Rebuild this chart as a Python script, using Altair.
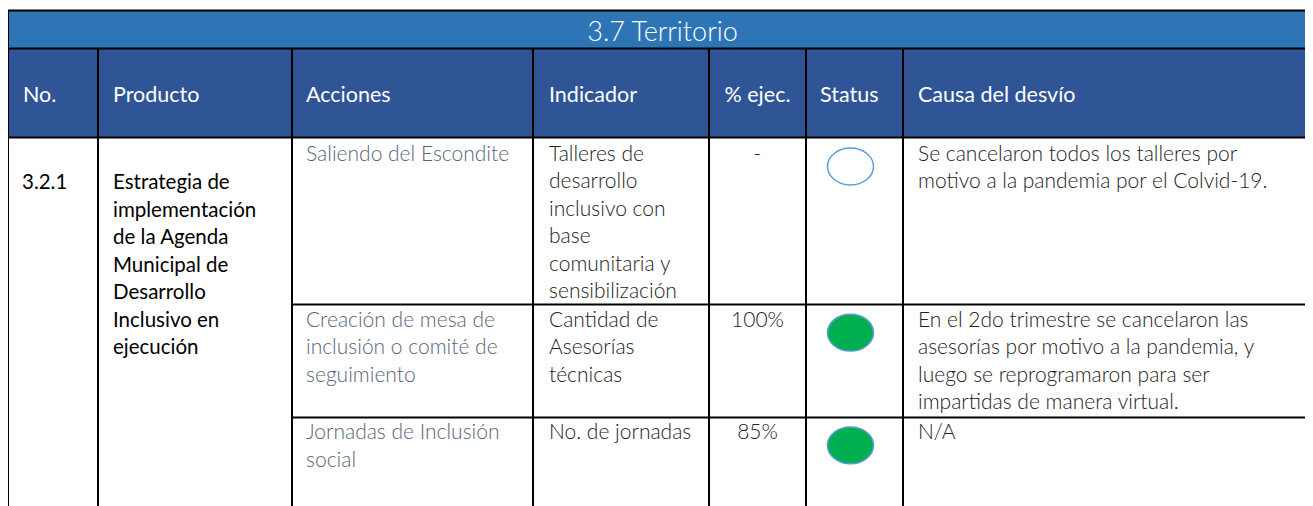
import altair as alt
import pandas as pd

# ---------------- data ----------------
titulo = "3.7 Territorio"
encabezados = ["No.", "Producto", "Acciones", "Indicador", "% ejec.", "Status", "Causa del desvío"]
numero = "3.2.1"
producto = ["Estrategia de", "implementación", "de la Agenda", "Municipal de",
            "Desarrollo", "Inclusivo en", "ejecución"]
acciones = [
    ["Saliendo del Escondite"],
    ["Creación de mesa de", "inclusión o comité de", "seguimiento"],
    ["Jornadas de Inclusión", "social"],
]
indicadores = [
    ["Talleres de", "desarrollo", "inclusivo con", "base", "comunitaria y", "sensibilización"],
    ["Cantidad de", "Asesorías", "técnicas"],
    ["No. de jornadas"],
]
ejecucion = ["-", "100%", "85%"]
status = ["Sin ejecutar", "Ejecutado", "Ejecutado"]
causas = [
    ["Se cancelaron todos los talleres por", "motivo a la pandemia por el Colvid-19."],
    ["En el 2do trimestre se cancelaron las", "asesorías por motivo a la pandemia, y",
     "luego se reprogramaron para ser", "impartidas de manera virtual."],
    ["N/A"],
]

# ---------------- layout ----------------
X0, X1 = 8, 1305
Y0, Y1 = 8, 506
TOP = 10.5
TITLE_BOTTOM = 48.5
HEAD_BOTTOM = 137.5
COL_EDGES = [8, 98, 292, 533, 709, 806, 903]
ROW_EDGES = [304.5, 417.5]
TEXT_X = [22, 113, 306, 549, 757.5, 850.5, 918]
HEAD_X = [23, 113, 306, 549, 757.5, 820, 918]
HEAD_BASE = 101.5
TITLE_BASE = 40.5
TITLE_X = 662.5
ROW_BASE = [160.5, 326.7, 439.3]
LEAD_BASE = 189
LINE_H = 27.5
BODY_SIZE = 21
LEAD_SIZE = 20.5
HEAD_SIZE = 21.5
TITLE_SIZE = 27
FONT = "Lato"
C_TITLE = "#2E75B6"
C_HEAD = "#2F5597"
C_GRAY = "#56667A"
C_DARK = "#222222"
C_BLACK = "#000000"

xs = alt.Scale(domain=[X0, X1], nice=False, zero=False)
ys = alt.Scale(domain=[Y0, Y1], nice=False, zero=False, reverse=True)

# backgrounds
bg = pd.DataFrame({
    "x": [X0, X0], "x2": [X1, X1],
    "y": [TOP, TITLE_BOTTOM], "y2": [TITLE_BOTTOM, HEAD_BOTTOM],
    "c": [C_TITLE, C_HEAD],
})
rects = alt.Chart(bg).mark_rect().encode(
    x=alt.X("x:Q", scale=xs, axis=None), x2="x2:Q",
    y=alt.Y("y:Q", scale=ys, axis=None), y2="y2:Q",
    color=alt.Color("c:N", scale=None),
)

# grid lines
lines = []
lines.append(dict(x=X0, x2=X1, y=TOP, y2=TOP))
lines.append(dict(x=X0, x2=X1, y=TITLE_BOTTOM, y2=TITLE_BOTTOM))
lines.append(dict(x=X0, x2=X1, y=HEAD_BOTTOM, y2=HEAD_BOTTOM))
lines.append(dict(x=X0, x2=X0, y=TOP, y2=Y1))
for cx in COL_EDGES[1:]:
    lines.append(dict(x=cx, x2=cx, y=TITLE_BOTTOM, y2=Y1))
for ry in ROW_EDGES:
    lines.append(dict(x=COL_EDGES[2], x2=X1, y=ry, y2=ry))
rules = alt.Chart(pd.DataFrame(lines)).mark_rule(color="black", strokeWidth=2).encode(
    x=alt.X("x:Q", scale=xs, axis=None), x2="x2:Q",
    y=alt.Y("y:Q", scale=ys, axis=None), y2="y2:Q",
)

# status ellipses
st = pd.DataFrame({
    "x": [TEXT_X[5]] * len(status),
    "y": [b + 6 for b in ROW_BASE],
    "status": status,
})
ellipse = "M -1 0 A 1 0.8 0 1 1 1 0 A 1 0.8 0 1 1 -1 0 Z"
dots = alt.Chart(st).mark_point(
    shape=ellipse, size=46 * 46, filled=True, stroke="#5B9BD5", strokeWidth=1.5, opacity=1,
).encode(
    x=alt.X("x:Q", scale=xs, axis=None),
    y=alt.Y("y:Q", scale=ys, axis=None),
    fill=alt.Fill("status:N", scale=alt.Scale(domain=["Sin ejecutar", "Ejecutado"],
                                              range=["#FFFFFF", "#00B050"]), legend=None),
)

def text_layer(df, align, size, weight):
    return alt.Chart(df).mark_text(
        align=align, baseline="alphabetic", font=FONT, fontSize=size, fontWeight=weight,
    ).encode(
        x=alt.X("x:Q", scale=xs, axis=None),
        y=alt.Y("y:Q", scale=ys, axis=None),
        text="t:N",
        color=alt.Color("c:N", scale=None),
    )

# title
title_df = pd.DataFrame({"x": [TITLE_X], "y": [TITLE_BASE], "t": [titulo], "c": ["#FFFFFF"]})
title = text_layer(title_df, "center", TITLE_SIZE, 300)

# headers
hl, hc = [], []
for i, h in enumerate(encabezados):
    row = dict(x=HEAD_X[i], y=HEAD_BASE, t=h, c="#FFFFFF")
    (hc if i == 4 else hl).append(row)
head_left = text_layer(pd.DataFrame(hl), "left", HEAD_SIZE, 400)
head_center = text_layer(pd.DataFrame(hc), "center", HEAD_SIZE, 400)

# body: No. and Producto (regular, black)
reg = [dict(x=TEXT_X[0], y=LEAD_BASE, t=numero, c=C_BLACK)]
for k, ln in enumerate(producto):
    reg.append(dict(x=TEXT_X[1], y=LEAD_BASE + k * LINE_H, t=ln, c=C_BLACK))
body_reg = text_layer(pd.DataFrame(reg), "left", LEAD_SIZE, 400)

# body: light texts
light, center = [], []
for r in range(len(status)):
    base = ROW_BASE[r]
    for k, ln in enumerate(acciones[r]):
        light.append(dict(x=TEXT_X[2], y=base + k * LINE_H, t=ln, c=C_GRAY))
    for k, ln in enumerate(indicadores[r]):
        light.append(dict(x=TEXT_X[3], y=base + k * LINE_H, t=ln, c=C_DARK))
    for k, ln in enumerate(causas[r]):
        light.append(dict(x=TEXT_X[6], y=base + k * LINE_H, t=ln, c=C_DARK))
    center.append(dict(x=TEXT_X[4], y=base, t=ejecucion[r], c=C_DARK))
body_light = text_layer(pd.DataFrame(light), "left", BODY_SIZE, 300)
body_center = text_layer(pd.DataFrame(center), "center", BODY_SIZE, 300)

chart = alt.layer(
    rects, dots, rules, title, head_left, head_center, body_reg, body_light, body_center
).properties(
    width=X1 - X0, height=Y1 - Y0, padding=0,
    autosize=alt.AutoSizeParams(type="none"),
    background="white",
).configure_view(stroke=None)

chart.save("out.html", embed_options={"renderer": "svg", "actions": False})
